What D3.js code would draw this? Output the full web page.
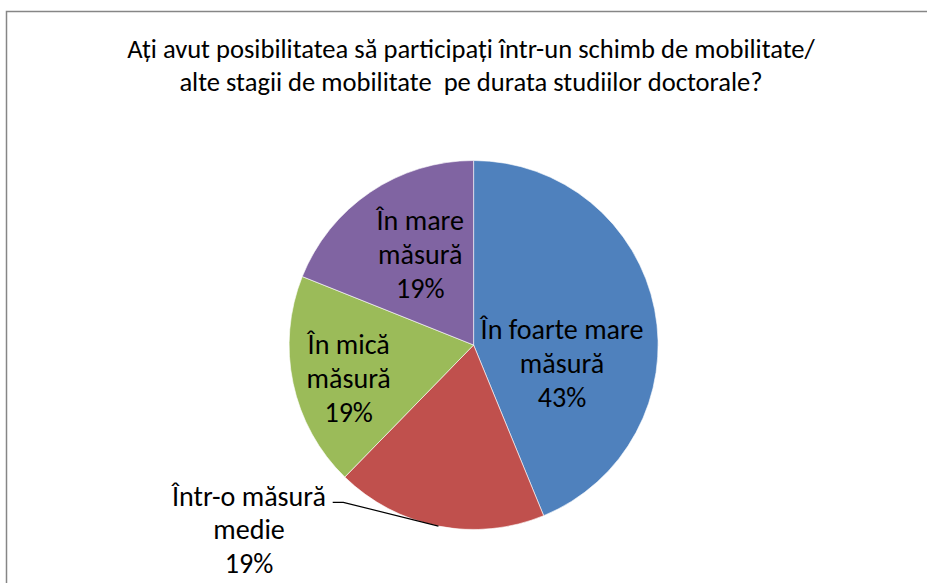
<!DOCTYPE html>
<html><head><meta charset="utf-8">
<script src="https://cdn.jsdelivr.net/npm/d3@7"></script>
<style>html,body{margin:0;padding:0;background:#fff;overflow:hidden} text{white-space:pre}</style>
</head><body>
<svg id="c" width="927" height="583"></svg>
<script>
const titleLines = ["Ați avut posibilitatea să participați într-un schimb de mobilitate/", "alte stagii de mobilitate  pe durata studiilor doctorale?"];
const categories = [["În foarte mare", "măsură"], ["Într-o măsură", "medie"], ["În mică", "măsură"], ["În mare", "măsură"]];
const values = [43.8, 18.5, 18.75, 18.95];
const percentLabels = ["43%", "19%", "19%", "19%"];
const colors = ["#4F81BD", "#C0504D", "#9BBB59", "#8064A2"];

// label placement (angle offset in degrees, radius in px, outside flag)
const labelLayout = [
  {da: 22.6, r: 90.2},
  {outside: true},
  {da: -2.8, r: 129.2},
  {da: 3.8, r: 105.7}
];

const svg = d3.select("#c");
const font = "Carlito, Calibri, Lato, sans-serif";

function fitSize(sample, target, base) {
  const t = svg.append("text").attr("font-family", font).attr("font-size", base).text(sample);
  const w = t.node().getComputedTextLength();
  t.remove();
  return base * target / w;
}
const titleSize = fitSize(titleLines[0], 688, 20);
const labelSize = fitSize(categories[0][0], 163, 22);

// border
svg.append("path").attr("d", "M6.5,583 L6.5,11.5 L927,11.5")
  .attr("fill", "none").attr("stroke", "#868686").attr("stroke-width", 1.5);

// title
const title = svg.append("text").attr("text-anchor", "middle")
  .attr("font-family", font).attr("font-size", titleSize).attr("fill", "#000");
titleLines.forEach((t, i) => title.append("tspan").attr("x", 471).attr("y", 58 + i * 33).text(t));

const cx = 473.6, cy = 345, R = 184.5;
const pie = d3.pie().sort(null).value(d => d);
const arcs = pie(values);
const arc = d3.arc().innerRadius(0).outerRadius(R);
const g = svg.append("g").attr("transform", `translate(${cx},${cy})`);
g.selectAll("path.slice").data(arcs).join("path")
  .attr("class", "slice")
  .attr("d", arc)
  .attr("fill", (d, i) => colors[i])
  .attr("stroke", "#fff").attr("stroke-width", 0.6);

const lh = 34;
arcs.forEach((d, i) => {
  const L = labelLayout[i];
  const lines = [...categories[i], percentLabels[i]];
  let x, y, spacing = lh;
  if (L.outside) {
    x = 249 - cx; y = 529 - cy; spacing = 33.5;
    const mid = (d.startAngle + d.endAngle) / 2;
    const ex = R * Math.sin(mid), ey = -R * Math.cos(mid);
    g.append("polyline")
      .attr("points", `${332.7 - cx},${502.3 - cy} ${343.3 - cx},${502.3 - cy} ${ex},${ey}`)
      .attr("fill", "none").attr("stroke", "#000").attr("stroke-width", 1.2);
  } else {
    const a = (d.startAngle + d.endAngle) / 2 + L.da * Math.PI / 180;
    x = L.r * Math.sin(a); y = -L.r * Math.cos(a);
  }
  const t = g.append("text").attr("text-anchor", "middle")
    .attr("font-family", font).attr("font-size", labelSize).attr("fill", "#000");
  lines.forEach((s, k) => t.append("tspan").attr("x", x)
    .attr("y", y + (k - 1) * spacing).attr("dy", "0.36em").text(s));
});
</script>
</body></html>
